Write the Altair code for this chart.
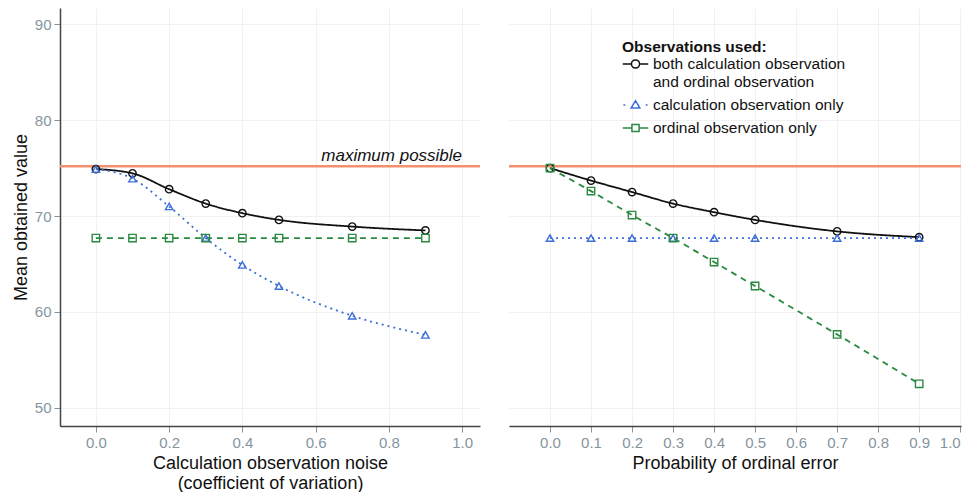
import altair as alt
import pandas as pd

# ---- data ----
x_vals = [0.0, 0.1, 0.2, 0.3, 0.4, 0.5, 0.7, 0.9]

left_both = [74.9, 74.45, 72.8, 71.3, 70.3, 69.6, 68.9, 68.5]
left_calc = [74.9, 73.9, 71.0, 67.7, 64.9, 62.7, 59.6, 57.6]
left_ord = [67.7, 67.7, 67.7, 67.7, 67.7, 67.7, 67.7, 67.7]

right_both = [75.0, 73.7, 72.5, 71.3, 70.4, 69.6, 68.4, 67.8]
right_calc = [67.7, 67.7, 67.7, 67.7, 67.7, 67.7, 67.7, 67.7]
right_ord = [75.0, 72.6, 70.1, 67.7, 65.2, 62.7, 57.65, 52.5]

max_possible = [75.2]
max_label = ["maximum possible"]

series = ["both", "calc", "ord"]
series_colors = ["#111111", "#3d6fd6", "#2a8a40"]
series_dash = [[1, 0], [2, 4], [6, 5]]
series_shapes = ["circle", "triangle-up", "square"]

left_ticks = [0.0, 0.2, 0.4, 0.6, 0.8, 1.0]
right_ticks = [0.0, 0.1, 0.2, 0.3, 0.4, 0.5, 0.6, 0.7, 0.8, 0.9, 1.0]
y_ticks = [50, 60, 70, 80, 90]

legend_paths = [
    "M-1,0L-0.32,0M0.32,0L1,0M0.32,0A0.32,0.32 0 1,1 -0.32,0A0.32,0.32 0 1,1 0.32,0",
    "M-0.95,0L-0.8,0M0.8,0L0.95,0M0,-0.34L0.34,0.24L-0.34,0.24Z",
    "M-1,0L-0.28,0M0.28,0L1,0M-0.28,-0.28H0.28V0.28H-0.28Z",
]

FONT = "Liberation Sans"
LABEL_C = "#8595a0"
LABEL_EXPR = ("datum.label == 'both' ? ['both calculation observation','and ordinal observation']"
              " : datum.label == 'calc' ? 'calculation observation only' : 'ordinal observation only'")


def long_df(both, calc, ord_):
    rows = []
    for name, vals in zip(series, [both, calc, ord_]):
        for xv, yv in zip(x_vals, vals):
            rows.append({"x": xv, "y": yv, "series": name})
    return pd.DataFrame(rows)


left_df = long_df(left_both, left_calc, left_ord)
right_df = long_df(right_both, right_calc, right_ord)
max_df = pd.DataFrame({"x": [1.0], "y": max_possible, "label": max_label})
legend_df = pd.DataFrame({"series": series})

color_scale = alt.Scale(domain=series, range=series_colors)
dash_scale = alt.Scale(domain=series, range=series_dash)
shape_scale = alt.Scale(domain=series, range=series_shapes)
y_scale = alt.Scale(domain=[48.1, 91.7], nice=False, zero=False)


def make_legend():
    return alt.Legend(
        title="Observations used:",
        orient="none",
        legendX=113,
        legendY=32,
        labelExpr=LABEL_EXPR,
        symbolOpacity=1,
        symbolFillColor="transparent",
        symbolStrokeWidth=1.5,
        symbolSize=650,
        rowPadding=1,
    )


def panel(df, x_domain, ticks, x_title, show_y, with_legend, with_label):
    x_enc = alt.X(
        "x:Q",
        scale=alt.Scale(domain=x_domain, nice=False, zero=False),
        axis=alt.Axis(values=ticks, format=".1f", title=x_title, grid=True),
    )
    if show_y:
        y_axis = alt.Axis(values=y_ticks, title="Mean obtained value", grid=True)
    else:
        y_axis = alt.Axis(values=y_ticks, title=None, labels=False, ticks=False,
                          domain=False, grid=True)
    y_enc = alt.Y("y:Q", scale=y_scale, axis=y_axis)

    rule = alt.Chart(max_df).mark_rule(color="#f2906f", strokeWidth=2.5).encode(
        y=alt.Y("y:Q", scale=y_scale)
    )
    lines = alt.Chart(df).mark_line(strokeWidth=1.8, interpolate="monotone").encode(
        x=x_enc,
        y=y_enc,
        color=alt.Color("series:N", scale=color_scale, legend=None),
        strokeDash=alt.StrokeDash("series:N", scale=dash_scale, legend=None),
        detail="series:N",
    )
    pts = alt.Chart(df).mark_point(filled=False, size=55, strokeWidth=1.4, opacity=1).encode(
        x="x:Q",
        y="y:Q",
        color=alt.Color("series:N", scale=color_scale, legend=None),
        shape=alt.Shape("series:N", scale=shape_scale, legend=None),
    )
    layers = [rule, lines, pts]
    if with_label:
        txt = alt.Chart(max_df).mark_text(
            align="right", baseline="bottom", dy=-1, fontStyle="italic",
            fontSize=17, font=FONT, color="#111111"
        ).encode(x="x:Q", y="y:Q", text="label:N")
        layers.append(txt)
    if with_legend:
        leg = alt.Chart(legend_df).mark_point(filled=False, opacity=0).encode(
            color=alt.Color("series:N",
                            scale=alt.Scale(domain=series, range=series_colors),
                            legend=make_legend()),
            shape=alt.Shape("series:N",
                            scale=alt.Scale(domain=series, range=legend_paths),
                            legend=make_legend()),
        )
        layers.append(leg)
    ch = alt.layer(*layers)
    if with_legend:
        ch = ch.resolve_scale(color="independent", shape="independent")
    return ch


left = panel(left_df, [-0.098, 1.049], left_ticks,
             ["Calculation observation noise", "(coefficient of variation)"],
             True, False, True).properties(width=420, height=418)
right = panel(right_df, [-0.1, 1.002], right_ticks, "Probability of ordinal error",
              False, True, False).properties(width=452, height=418)

chart = alt.hconcat(left, right, spacing=25).properties(
    padding={"left": 4, "top": 0, "right": 0, "bottom": 0}
).configure_view(stroke=None).configure_axis(
    labelFont=FONT, titleFont=FONT, labelFontSize=15, labelColor=LABEL_C,
    tickColor=LABEL_C, tickSize=6, labelPadding=3, domainColor="#444444",
    domainWidth=1.5, titleFontSize=18, titleFontWeight="normal", titleColor="#111111",
    gridColor="#f1f1f1", titlePadding=4,
).configure_legend(
    titleFont=FONT, labelFont=FONT, titleFontSize=15.5, titleFontWeight="bold",
    titleColor="#111111", labelFontSize=15.5, labelColor="#111111", labelOffset=4,
    labelLimit=400, titlePadding=-5,
)

chart.save("out.html", embed_options={"renderer": "svg", "actions": False})
